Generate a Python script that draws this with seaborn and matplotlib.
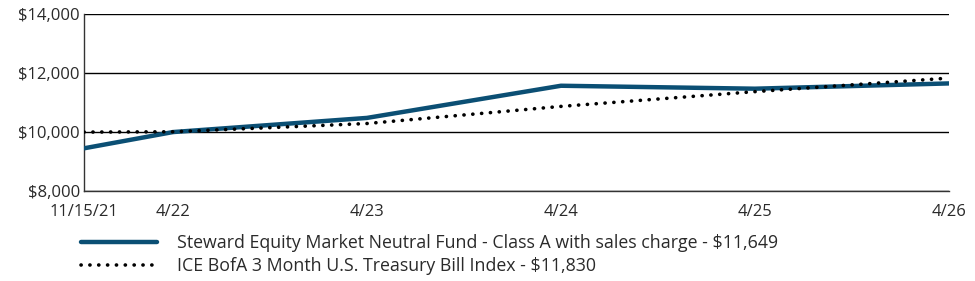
import pandas as pd
import seaborn as sns
import matplotlib.pyplot as plt

# months since 11/15/21 for each point on the chart
months = [0, 5.5, 17.5, 29.5, 41.5, 53.5]
tick_labels = ['11/15/21', '4/22', '4/23', '4/24', '4/25', '4/26']
fund = [9450, 10000, 10480, 11570, 11470, 11649]
index = [10000, 10010, 10290, 10870, 11370, 11830]

fund_name = 'Steward Equity Market Neutral Fund - Class A with sales charge - $11,649'
index_name = 'ICE BofA 3 Month U.S. Treasury Bill Index - $11,830'

df = pd.DataFrame({'month': months * 2,
                   'value': fund + index,
                   'series': [fund_name] * len(fund) + [index_name] * len(index)})

sns.set_style('white')
plt.rcParams['font.family'] = ['Open Sans', 'DejaVu Sans']

fig = plt.figure(figsize=(9.75, 2.81), dpi=100)
ax = fig.add_axes([0.0862, 0.320, 0.8871, 0.630])

sns.lineplot(data=df[df.series == fund_name], x='month', y='value', color='#0b4f74',
             linewidth=3.2, ax=ax, label=fund_name, zorder=3)
sns.lineplot(data=df[df.series == index_name], x='month', y='value', color='black',
             linewidth=2.6, linestyle=(0, (0.05, 2.4)), dash_capstyle='round',
             ax=ax, label=index_name, zorder=4)

ax.set_xlim(0, 53.5)
ax.set_ylim(8000, 14000)
ax.set_yticks([8000, 10000, 12000, 14000])
ax.set_yticklabels(['$8,000', '$10,000', '$12,000', '$14,000'])
ax.set_xticks(months)
ax.set_xticklabels(tick_labels)
ax.set_xlabel('')
ax.set_ylabel('')
ax.grid(axis='y', color='black', linewidth=1.0)
ax.set_axisbelow(True)
ax.tick_params(axis='x', direction='out', length=6, width=1, color='#333333',
               labelsize=12, labelcolor='#2a2a2a', pad=3)
ax.tick_params(axis='y', length=0, labelsize=12, labelcolor='#2a2a2a', pad=3)
for s in ['top', 'right']:
    ax.spines[s].set_visible(False)
for s in ['left', 'bottom']:
    ax.spines[s].set_color('#333333')
    ax.spines[s].set_linewidth(1.0)

ax.legend(loc='upper left', bbox_to_anchor=(-0.012, -0.205), frameon=False,
          fontsize=12.8, handlelength=4.3, handletextpad=1.1, labelspacing=0.28,
          labelcolor='#2a2a2a', borderaxespad=0)

plt.savefig('out.png', dpi=100)
